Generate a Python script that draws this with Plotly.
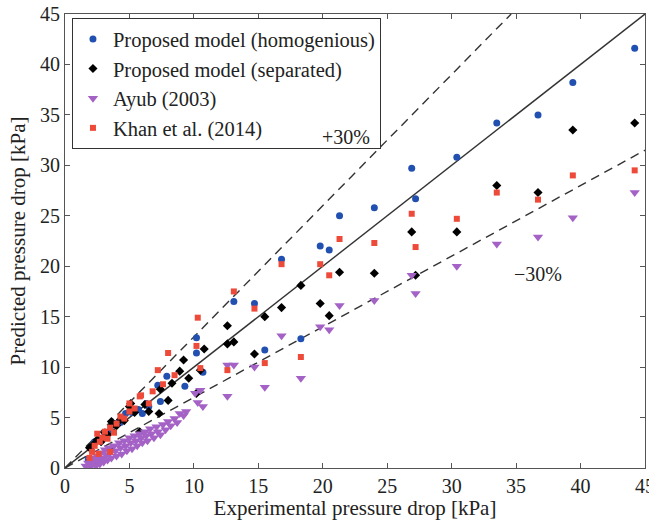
import plotly.graph_objects as go

# ---- data ----
blue_x = [1.8, 2.3, 2.7, 3.1, 3.4, 3.9, 4.3, 4.7, 5.2, 5.7, 6.0, 6.3, 6.5, 7.2, 7.4, 7.9, 9.3, 10.2, 10.2, 10.7,
          13.1, 14.7, 15.5, 16.8, 18.3, 19.8, 20.5, 21.3, 24.0, 26.9, 27.2, 30.4, 33.5, 36.7, 39.4, 44.2]
blue_y = [0.9, 2.6, 2.9, 3.3, 3.6, 4.4, 4.5, 5.4, 5.5, 5.8, 5.4, 6.4, 6.1, 8.2, 6.6, 9.1, 8.1, 12.9, 11.4, 9.5,
          16.5, 16.3, 11.7, 20.7, 12.8, 22.0, 21.6, 25.0, 25.8, 29.7, 26.7, 30.8, 34.2, 35.0, 38.2, 41.6]

black_x = [1.9, 2.2, 2.5, 2.8, 3.1, 3.3, 3.5, 3.6, 3.7, 4.0, 4.3, 4.6, 5.1, 5.0, 5.4, 5.8, 6.2, 6.5, 7.3, 7.4,
           8.0, 8.3, 8.9, 9.2, 9.6, 10.2, 10.5, 10.8, 12.6, 12.6, 13.1, 14.7, 15.5, 16.8, 18.3, 19.8, 20.5,
           21.3, 24.0, 26.9, 27.2, 30.4, 33.5, 36.7, 39.4, 44.2]
black_y = [2.0, 2.3, 2.8, 2.6, 3.5, 3.3, 1.8, 4.6, 4.3, 4.2, 4.8, 4.7, 6.4, 6.1, 5.5, 3.6, 6.3, 5.6, 5.4, 7.8,
           6.7, 8.4, 9.6, 10.7, 8.9, 7.4, 9.7, 11.8, 14.1, 12.3, 12.5, 11.3, 15.0, 15.9, 18.1, 16.3, 15.1,
           19.4, 19.3, 23.4, 19.1, 23.4, 28.0, 27.3, 33.5, 34.2]

purple_x = [1.6, 1.8, 1.9, 2.0, 2.1, 2.2, 2.3, 2.4, 2.5, 2.6, 2.7, 2.8, 2.9, 3.0, 3.1, 3.2, 3.3, 3.4, 3.5,
            3.6, 3.8, 3.9, 4.0, 4.2, 4.3, 4.4, 4.6, 4.7, 4.8, 5.0, 5.1, 5.2, 5.4, 5.5, 5.6, 5.8, 5.9, 6.0,
            6.2, 6.3, 6.4, 6.6, 6.7, 6.9, 7.1, 7.2, 7.4, 7.6, 7.8, 8.0, 8.2, 8.5, 8.7, 8.9, 9.2, 9.4,
            10.1, 10.3, 10.5, 10.7, 12.6, 12.6, 13.1, 14.7, 15.5, 16.8, 18.3, 19.8, 20.5, 21.3, 24.0,
            26.9, 27.2, 30.4, 33.5, 36.7, 39.4, 44.2]
purple_y = [0.2, 0.5, 0.1, 0.8, 0.3, 1.0, 0.6, 0.2, 1.2, 0.8, 0.4, 1.5, 1.0, 0.6, 1.8, 1.3, 0.8, 2.0, 1.5,
            1.0, 2.2, 1.7, 1.2, 2.5, 2.0, 1.4, 2.7, 2.2, 1.7, 3.0, 2.5, 1.9, 3.2, 2.7, 2.2, 3.4, 3.0, 2.5,
            3.6, 3.2, 2.7, 3.9, 3.4, 3.0, 4.1, 3.6, 3.3, 4.3, 3.8, 4.6, 4.2, 4.9, 4.5, 5.4, 5.2, 5.6,
            7.4, 6.5, 7.7, 6.1, 10.2, 7.1, 10.2, 10.0, 8.0, 13.1, 8.9, 14.0, 13.7, 16.1, 16.6,
            19.1, 17.3, 20.0, 22.2, 22.9, 24.8, 27.3]

red_x = [1.9, 2.1, 2.3, 2.5, 2.6, 2.7, 2.9, 3.1, 3.3, 3.5, 3.5, 3.8, 4.0, 4.3, 4.6, 5.0, 5.0, 5.4, 5.8, 5.9,
         6.5, 6.8, 7.2, 7.6, 8.0, 8.5, 10.2, 10.3, 10.5, 12.6, 13.1, 14.7, 15.5, 16.8, 18.3, 19.8, 20.5,
         21.3, 24.0, 26.9, 27.2, 30.4, 33.5, 36.7, 39.4, 44.2]
red_y = [1.0, 1.6, 2.2, 3.4, 1.4, 2.6, 3.0, 3.6, 2.9, 4.0, 1.6, 3.5, 4.4, 5.1, 4.9, 6.4, 5.6, 5.9, 7.1, 7.2,
         6.4, 7.6, 9.7, 8.3, 11.4, 9.2, 12.1, 14.9, 9.9, 9.7, 17.5, 15.8, 10.4, 20.2, 11.0, 20.2, 19.1,
         22.7, 22.3, 25.2, 21.9, 24.7, 27.3, 26.6, 29.0, 29.5]

series_names = ["Proposed model (homogenious)", "Proposed model (separated)", "Ayub (2003)", "Khan et al. (2014)"]
axis_max = 45
band = 0.30
tick_vals = [0, 5, 10, 15, 20, 25, 30, 35, 40, 45]

FONT = "Liberation Serif, Times New Roman, serif"
LINE_C = "#333333"
TXT_C = "#222222"

fig = go.Figure()

# reference lines
fig.add_trace(go.Scatter(x=[0, axis_max], y=[0, axis_max], mode="lines",
                         line=dict(color=LINE_C, width=1.4), showlegend=False, hoverinfo="skip"))
fig.add_trace(go.Scatter(x=[0, axis_max / (1 + band)], y=[0, axis_max], mode="lines",
                         line=dict(color=LINE_C, width=1.4, dash="9px,6px"), showlegend=False, hoverinfo="skip"))
fig.add_trace(go.Scatter(x=[0, axis_max], y=[0, axis_max * (1 - band)], mode="lines",
                         line=dict(color=LINE_C, width=1.4, dash="9px,6px"), showlegend=False, hoverinfo="skip"))

fig.add_trace(go.Scatter(x=blue_x, y=blue_y, mode="markers", name=series_names[0],
                         marker=dict(symbol="circle", size=7, color="#2150b0")))
fig.add_trace(go.Scatter(x=black_x, y=black_y, mode="markers", name=series_names[1],
                         marker=dict(symbol="diamond", size=7, color="#000000")))
fig.add_trace(go.Scatter(x=purple_x, y=purple_y, mode="markers", name=series_names[2],
                         marker=dict(symbol="triangle-down", size=9, color="#a461c6")))
fig.add_trace(go.Scatter(x=red_x, y=red_y, mode="markers", name=series_names[3],
                         marker=dict(symbol="square", size=6, color="#ee4a3a")))

fig.add_annotation(x=21.8, y=32.8, text="+30%", showarrow=False,
                   font=dict(family=FONT, size=20, color=TXT_C))
fig.add_annotation(x=36.7, y=19.2, text="\u221230%", showarrow=False,
                   font=dict(family=FONT, size=20, color=TXT_C))

axis_common = dict(range=[0, axis_max], tickvals=tick_vals, ticks="inside", ticklen=5,
                   tickcolor="#555", showline=True, linecolor="#555", linewidth=1, mirror="ticks",
                   showgrid=False, zeroline=False, tickfont=dict(family=FONT, size=20, color=TXT_C),
                   automargin=False, ticklabeloverflow="allow")

fig.update_xaxes(**axis_common, title=dict(text="Experimental pressure drop [kPa]",
                                           font=dict(family=FONT, size=21, color=TXT_C), standoff=0))
fig.update_yaxes(**axis_common, title=dict(text="Predicted pressure drop [kPa]",
                                           font=dict(family=FONT, size=21, color=TXT_C), standoff=8))

fig.update_layout(
    width=649, height=520,
    margin=dict(l=65, r=4, t=14, b=52),
    plot_bgcolor="white", paper_bgcolor="white",
    legend=dict(x=0.012, y=0.991, xanchor="left", yanchor="top",
                bgcolor="white", bordercolor="#333", borderwidth=1,
                font=dict(family=FONT, size=20.5, color=TXT_C),
                tracegroupgap=0, itemsizing="trace"),
)

fig.write_html("out.html")
